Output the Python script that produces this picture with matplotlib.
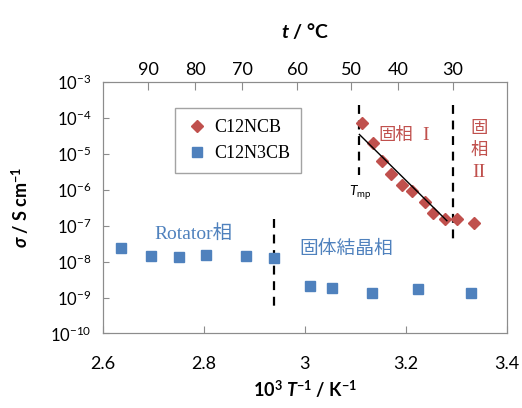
import numpy as np
import matplotlib
matplotlib.use("Agg")
import matplotlib.pyplot as plt

plt.rcParams["font.family"] = ["Lato", "DejaVu Sans"]
plt.rcParams["mathtext.fontset"] = "custom"
plt.rcParams["mathtext.rm"] = "Lato"
plt.rcParams["mathtext.it"] = "Lato:italic"
plt.rcParams["mathtext.bf"] = "Lato:bold"
plt.rcParams["mathtext.bfit"] = "Lato:bold:italic"

# C12NCB (diamonds)
ncb_x = [3.113, 3.134, 3.152, 3.171, 3.192, 3.212, 3.238, 3.254, 3.277, 3.301, 3.334]
ncb_logs = [-4.15, -4.71, -5.20, -5.56, -5.87, -6.03, -6.33, -6.64, -6.82, -6.80, -6.93]
# C12N3CB (squares)
n3cb_x = [2.637, 2.696, 2.752, 2.804, 2.884, 2.940, 3.011, 3.053, 3.133, 3.224, 3.328]
n3cb_logs = [-7.62, -7.84, -7.87, -7.81, -7.84, -7.90, -8.69, -8.74, -8.86, -8.77, -8.88]
# fitted line for solid phase I
fit_x = [3.108, 3.281]
fit_logs = [-4.46, -6.86]
# top axis: temperature ticks as placed in the figure
top_ticks = [2.690, 2.783, 2.876, 2.985, 3.092, 3.184, 3.293]
top_labels = ["90", "80", "70", "60", "50", "40", "30"]

red = "#C0504D"
blue = "#4F81BD"
spine = "#8c8c8c"
cjk = ["Noto Sans CJK JP", "DejaVu Sans"]

fig = plt.figure(figsize=(5.22, 4.08), dpi=100)
ax = fig.add_axes([0.1964, 0.1826, 0.7749, 0.6164])

ax.plot(ncb_x, 10 ** np.array(ncb_logs), "D", color=red, ms=6.5, mec=red,
        linestyle="none", label="C12NCB", zorder=3)
ax.plot(n3cb_x, 10 ** np.array(n3cb_logs), "s", color=blue, ms=7, mec=blue,
        linestyle="none", label="C12N3CB", zorder=3)
ax.plot(fit_x, 10 ** np.array(fit_logs), color="black", lw=1.0, zorder=4)

# phase boundaries
ax.plot([2.9387, 2.9387], [10 ** -6.82, 10 ** -9.41], color="black", lw=1.6, ls=(0, (4, 3)))
ax.plot([3.108, 3.108], [10 ** -3.64, 10 ** -5.59], color="black", lw=1.6, ls=(0, (4, 3)))
ax.plot([3.2927, 3.2927], [10 ** -3.64, 10 ** -7.51], color="black", lw=1.6, ls=(0, (4, 3)))

ax.set_yscale("log")
ax.set_xlim(2.6, 3.4)
ax.set_ylim(1e-10, 1e-3)
ax.set_xticks([2.6, 2.8, 3.0, 3.2, 3.4])
ax.set_xticklabels(["2.6", "2.8", "3", "3.2", "3.4"])
ax.set_yticks([10.0 ** k for k in range(-10, -2)])
ax.set_yticklabels([r"$10^{%d}$" % k for k in range(-10, -2)])
ax.minorticks_off()
ax.tick_params(axis="x", direction="in", length=5, color=spine, labelsize=13, pad=16)
ax.tick_params(axis="y", direction="in", length=4, color=spine, labelsize=12, pad=8)
for s in ax.spines.values():
    s.set_color(spine)

ax2 = ax.twiny()
ax2.set_xlim(ax.get_xlim())
ax2.set_xticks(top_ticks)
ax2.set_xticklabels(top_labels)
ax2.tick_params(axis="x", direction="in", length=6, color=spine, labelsize=13, pad=3)
for s in ax2.spines.values():
    s.set_color(spine)

ax.set_xlabel(r"10$^{\mathbf{3}}$ $\mathbfit{T}^{\mathbf{-1}}$ / K$^{\mathbf{-1}}$",
              fontsize=13, fontweight="bold", labelpad=5)
ax.set_ylabel(r"$\mathbfit{\sigma}$ / S cm$^{\mathbf{-1}}$", fontsize=13,
              fontweight="bold", labelpad=14)
ax2.set_xlabel(r"$\mathbfit{t}$ / °C", fontsize=14, fontweight="bold", labelpad=17)

leg = ax.legend(loc="upper left", bbox_to_anchor=(0.1795, 0.8966), frameon=True,
                fancybox=False, edgecolor=spine, borderpad=0.6, borderaxespad=0,
                handletextpad=0.35, prop={"family": "Liberation Serif", "size": 13},
                handlelength=1.2, labelspacing=0.5)
leg.get_frame().set_linewidth(1.0)

ax.text(3.214, 10 ** -4.48, "固相", color=red, fontsize=12.5, ha="right", va="center",
        family=cjk)
ax.text(3.232, 10 ** -4.48, "I", color=red, fontsize=14, ha="left", va="center",
        family="Liberation Serif")
ax.text(3.345, 10 ** -4.59, "固\n相", color=red, fontsize=12.5, ha="center", va="center",
        family=cjk, linespacing=1.3)
ax.text(3.345, 10 ** -5.53, "II", color=red, fontsize=14, ha="center", va="center",
        family="Liberation Serif")
ax.text(3.109, 10 ** -6.09, r"$T_{\mathrm{mp}}$", fontsize=10, ha="center", va="center")
ax.text(2.78, 10 ** -7.24, "Rotator相", color=blue, fontsize=14, ha="center", va="center",
        family=["Liberation Serif", "Noto Sans CJK JP"])
ax.text(3.083, 10 ** -7.62, "固体結晶相", color=blue, fontsize=13.5, ha="center", va="center",
        family=cjk)

fig.savefig("out.png", dpi=100)
